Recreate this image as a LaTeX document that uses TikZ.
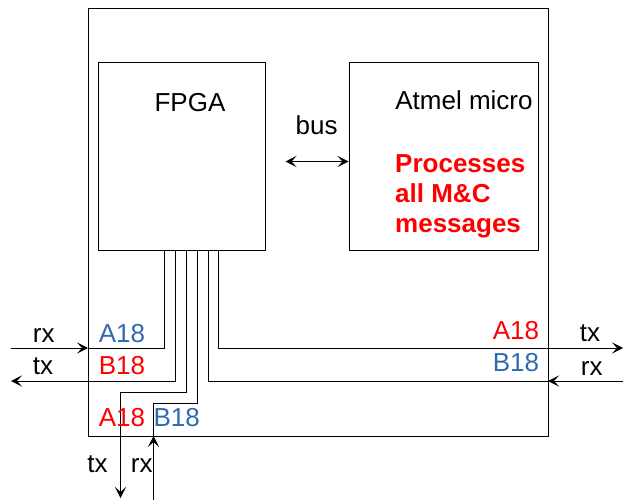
\documentclass[tikz,border=0pt]{standalone}
\usepackage{fontspec}
\setmainfont{Liberation Sans}
\usetikzlibrary{arrows.meta}
\definecolor{pinblue}{RGB}{46,106,176}
\definecolor{pinred}{RGB}{255,0,0}
\begin{document}
\begin{tikzpicture}[x=1pt,y=-1pt,
  box/.style={draw=black,line width=1pt,inner sep=0pt,fill=none},
  wire/.style={draw=black,line width=1pt},
  arr/.style={wire,-{Stealth[length=11pt,width=11pt,inset=5pt]}},
  txt/.style={inner sep=0pt,anchor=base,font=\fontsize{26}{30}\selectfont},
  blue/.style={txt,text=pinblue},
  red/.style={txt,text=pinred}]
\useasboundingbox (0,0) rectangle (626,500);
% boxes
\node[box,minimum width=460pt,minimum height=427pt] (outer) at (318,222.5) {};
\node[box,minimum width=167pt,minimum height=187pt] (fpga) at (181.5,156.5) {};
\node[box,minimum width=189pt,minimum height=187pt] (atmel) at (443.5,156.5) {};
% texts in boxes
\node[txt] (fpgalbl) at (190,111.7) {FPGA};
\node[txt] (atmellbl) at (464,110) {Atmel micro};
\node[txt] (buslbl) at (316.7,135) {bus};
\node[txt,anchor=base west,align=left,text=pinred,font=\fontsize{26}{30}\selectfont\bfseries] (proc) at (395,232) {Processes\\all M\&C\\messages};
% bus
\coordinate (busL) at ([xshift=20pt,yshift=-5pt]fpga.east);
\draw[wire,{Stealth[length=11pt,width=11pt,inset=5pt]}-{Stealth[length=11pt,width=11pt,inset=5pt]}] (busL) -- ([yshift=-5pt]atmel.west);
% pins on FPGA bottom
\coordinate (p1) at (164,250);
\coordinate (p2) at (175,250);
\coordinate (p3) at (186,250);
\coordinate (p4) at (197,250);
\coordinate (p5) at (208,250);
\coordinate (p6) at (218.5,250);
% free ends
\coordinate (Lrx) at (11,348);
\coordinate (Lrxin) at (88,348);
\coordinate (Ltx) at (11,381);
\coordinate (c3) at (120.5,392);
\coordinate (Btx) at (120.5,498);
\coordinate (Brx) at (153.5,500);
\coordinate (Brxin) at (153.5,436);
\coordinate (c4) at (153.5,403);
\coordinate (Rrx) at (623,381);
\coordinate (Rrxin) at (548,381);
\coordinate (Rtx) at (623,348);
% wires
\draw[arr] (Lrx) -- (Lrxin);
\draw[wire] (Lrxin) -| (p1);
\draw[arr] (p2) |- (Ltx);
\draw[arr] (p3) |- (c3) -- (Btx);
\draw[arr] (Brx) -- (Brxin);
\draw[wire] (Brxin) -- (c4) -| (p4);
\draw[arr] (Rrx) -- (Rrxin);
\draw[wire] (Rrxin) -| (p5);
\draw[arr] (p6) |- (Rtx);
% labels
\node[txt] (lrx) at (43.7,342) {rx};
\node[txt] (ltx) at (43,374) {tx};
\node[blue] (lA) at (122,342) {A18};
\node[red] (lB) at (122,374) {B18};
\node[red] (rA) at (516,339) {A18};
\node[blue] (rB) at (516,371) {B18};
\node[txt] (rtx) at (590,341.7) {tx};
\node[txt] (rrx) at (591.7,375) {rx};
\node[red] (bA) at (122,426.7) {A18};
\node[blue] (bB) at (176.7,426.7) {B18};
\node[txt] (btx) at (97.5,472) {tx};
\node[txt] (brx) at (141.7,472) {rx};
\end{tikzpicture}
\end{document}
